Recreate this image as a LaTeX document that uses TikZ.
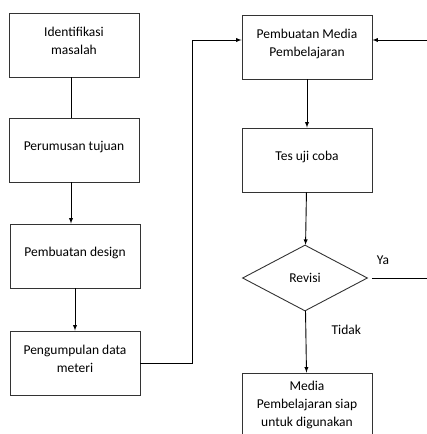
\documentclass[tikz,border=0pt]{standalone}
\usepackage{fontspec}
\setmainfont{Carlito}
\usetikzlibrary{shapes.geometric}
\tikzset{
  box/.style={draw=black!80, line width=0.9pt, minimum width=130pt, minimum height=64pt, align=center, text depth=8pt, font=\fontsize{13.5}{18}\selectfont},
  dia/.style={draw=black!80, line width=0.9pt, diamond, aspect=1.9, minimum width=125pt, minimum height=66pt, inner sep=0pt, font=\fontsize{13.5}{18}\selectfont},
  lbl/.style={font=\fontsize{13.5}{18}\selectfont},
}
\begin{document}
\begin{tikzpicture}[x=1pt, y=-1pt, >=latex, line width=0.9pt]
\useasboundingbox (0,0) rectangle (427,434);
\node[box] (Iden) at (74,45) {Identifikasi\\masalah};
\node[box] (Rumus) at (74,150) {Perumusan tujuan};
\node[box] (Design) at (75,256) {Pembuatan design};
\node[box] (Data) at (75,363) {Pengumpulan data\\meteri};
\node[box] (Media) at (307,47) {Pembuatan Media\\Pembelajaran};
\node[box] (Uji) at (307,160) {Tes uji coba};
\node[dia] (Revisi) at (305,278) {Revisi};
\node[box, text depth=2pt] (Siap) at (307,405) {Media\\Pembelajaran siap\\untuk digunakan};
\coordinate (Belok) at (192,40);
\coordinate (Kanan) at (427,40);
\coordinate (Ujung) at (427,278);
\draw ([xshift=-3pt]Iden.south) -- ([xshift=-3pt]Rumus.north);
\draw[->] ([xshift=-3pt]Rumus.south) -- ([xshift=-4pt]Design.north);
\draw[->] (Design) -- (Data);
\draw[->] (Data.east) -| (Belok) -- (Media.west |- Belok);
\draw[->] (Kanan) -- (Media.east |- Kanan);
\draw[->] (Media) -- (Uji);
\draw[->] (Uji) -- (Revisi);
\draw[->] (Revisi) -- node[lbl, right=22pt, pos=0.3] {Tidak} (Siap);
\draw ([xshift=4pt]Revisi.east) -- node[lbl, above=10pt, pos=0.2] {Ya} (Ujung);
\end{tikzpicture}
\end{document}
